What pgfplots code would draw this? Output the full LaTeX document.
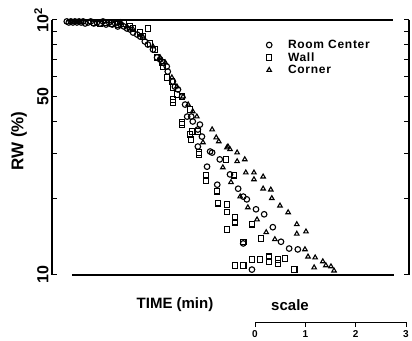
\documentclass[border=0pt]{standalone}
\usepackage{pgfplots}
\pgfplotsset{compat=1.18}
\usepackage{fontspec}
\setmainfont{Liberation Sans}
\begin{document}
\begin{tikzpicture}[x=1pt,y=1pt]
\useasboundingbox (0,0) rectangle (412,340);
\begin{axis}[
 at={(52pt,65pt)}, anchor=south west, scale only axis,
 width=357pt, height=255pt,
 xmin=0, xmax=7, ymode=log, ymin=10, ymax=100,
 xtick=\empty,
 ytick={10,50,100}, yticklabels={10,50,10\textsuperscript{2}},
 minor ytick={20,30,40,60,70,80,90},
 yticklabel pos=left,
 tick align=inside, major tick length=5pt, minor tick length=5pt,
 every tick/.style={black, line width=1pt},
 separate axis lines,
 every outer x axis line/.append style={draw=none},
 every outer y axis line/.append style={line width=1.3pt},
 yticklabel style={rotate=90, anchor=south, font=\fontsize{16}{16}\selectfont\bfseries},
 /pgf/number format/assume math mode=true,
 clip=false,
 legend style={at={(rel axis cs:0.60,0.93)}, anchor=north west, draw=none, fill=none,
   font=\fontsize{12}{12}\selectfont\bfseries\addfontfeatures{LetterSpace=6},
   row sep=-1.5pt, inner sep=0pt},
 legend cell align=left,
]
\addplot[only marks, mark=o, mark size=2.8pt, line width=1.1pt] coordinates {
(0.29,98.7) (0.33,97.8) (0.37,98.7) (0.41,97.8) (0.45,98.7) (0.49,97.8) (0.53,98.7)
(0.57,97.8) (0.61,98.7) (0.65,96.9) (0.71,97.8) (0.76,98.7) (0.82,96.9) (0.88,97.8)
(0.94,96.9) (1.00,98.7) (1.06,96.0) (1.12,97.8) (1.18,96.0) (1.24,96.9) (1.29,94.3)
(1.35,96.0) (1.41,94.3) (1.47,92.6) (1.53,91.8) (1.59,89.3) (1.67,87.7) (1.73,86.1)
(1.82,82.4) (1.88,80.1) (1.98,76.6) (2.06,71.3) (2.12,70.0) (2.18,68.1) (2.25,65.7)
(2.27,62.8) (2.37,57.4) (2.41,54.8) (2.47,53.4) (2.55,50.1) (2.61,46.6) (2.65,41.8)
(2.73,41.8) (2.76,40.0) (2.90,38.9) (2.86,37.2) (2.94,34.9) (2.86,31.9) (3.10,30.5)
(3.14,30.2) (3.04,26.6) (3.29,28.4) (3.24,22.6) (3.49,24.8) (3.65,21.8) (3.75,20.3)
(3.82,19.8) (4.00,18.1) (4.16,17.3) (4.33,15.4) (4.49,13.5) (4.65,12.7) (4.82,12.6)
(3.92,10.5) (3.75,13.3)
};
\addlegendentry{\hspace{14pt}Room Center}
\addplot[only marks, mark=square, mark size=2.7pt, line width=1.1pt] coordinates {
(0.82,97.8) (0.94,96.9) (1.06,97.8) (1.18,96.9) (1.29,96.0) (1.41,96.9) (1.53,94.3)
(1.59,92.6) (1.88,92.6) (1.73,89.3) (1.78,86.1) (1.92,80.9) (2.02,76.6) (2.06,71.3)
(2.16,68.1) (2.18,65.7) (2.25,59.5) (2.35,57.4) (2.37,54.4) (2.45,51.0) (2.37,48.8)
(2.37,47.5) (2.55,50.1) (2.71,44.6) (2.55,38.9) (2.55,39.6) (2.75,36.5) (2.86,36.5)
(2.71,35.6) (2.73,34.0) (2.88,30.2) (2.88,29.7) (3.41,28.4)
(3.02,24.6) (3.02,23.5) (3.24,21.3) (3.25,19.1) (3.43,18.9) (3.43,17.7) (3.43,15.1)
(3.57,24.6) (3.59,16.8) (3.59,16.1) (3.92,15.8) (3.75,13.5) (4.10,13.9) (3.59,10.9)
(3.75,10.9) (3.92,11.5) (4.08,11.5) (4.25,11.8) (4.25,11.3) (4.43,11.5) (4.43,11.1)
(4.57,11.6) (4.75,10.5)
};
\addlegendentry{\hspace{14pt}Wall}
\addplot[only marks, mark=triangle, mark size=2.6pt, line width=1.1pt] coordinates {
(1.35,97.8) (1.47,94.3) (1.59,91.8) (1.78,86.1) (1.98,78.7) (2.12,71.3) (2.22,68.1)
(2.35,59.5) (2.45,54.8) (2.57,50.1) (2.67,46.6) (2.76,43.8) (2.84,41.8)
(3.14,37.2) (2.96,33.1) (3.22,34.6) (3.27,33.4) (3.43,31.6) (3.45,31.9) (3.49,31.1)
(3.63,30.2) (3.63,27.9) (3.78,28.4) (3.35,26.4) (3.51,23.1) (3.80,25.2) (3.96,25.2)
(3.96,23.7) (4.14,24.3) (4.14,21.8) (4.29,21.6) (4.31,20.0) (3.69,20.3) (3.84,18.4)
(4.47,18.7) (4.63,17.6) (4.02,16.5) (4.80,15.8) (4.80,14.5) (4.98,14.8) (4.20,14.7)
(4.37,13.8) (4.96,12.6) (5.02,11.8) (5.16,11.7) (5.14,10.7) (5.31,11.3) (5.37,10.9)
(5.47,10.8) (5.53,10.4)
};
\addlegendentry{\hspace{14pt}Corner}
\draw[line width=1.3pt] (axis cs:0.3,100) -- (axis cs:6.69,100);
\draw[line width=1.3pt] (axis cs:0.39,10) -- (axis cs:6.71,10);
\end{axis}
\begin{axis}[
 at={(255pt,18pt)}, anchor=south west, scale only axis,
 width=151pt, height=5pt,
 xmin=0, xmax=3, ymin=0, ymax=1,
 axis x line=bottom, axis y line=none,
 axis line style={-, line width=1pt},
 xtick={0,1,2,3}, tick align=outside, major tick length=5pt,
 every tick/.style={black, line width=0.9pt},
 x tick label style={font=\fontsize{10}{10}\selectfont\bfseries},
 /pgf/number format/assume math mode=true,
]
\addplot[draw=none] coordinates {(0,0) (3,0)};
\end{axis}
\node[rotate=90, font=\fontsize{17}{17}\selectfont\bfseries] at (19,199) {RW (\%)};
\node[font=\fontsize{15}{15}\selectfont\bfseries] at (175,35) {TIME (min)};
\node[font=\fontsize{15}{15}\selectfont\bfseries] at (290,35) {scale};
\end{tikzpicture}
\end{document}
